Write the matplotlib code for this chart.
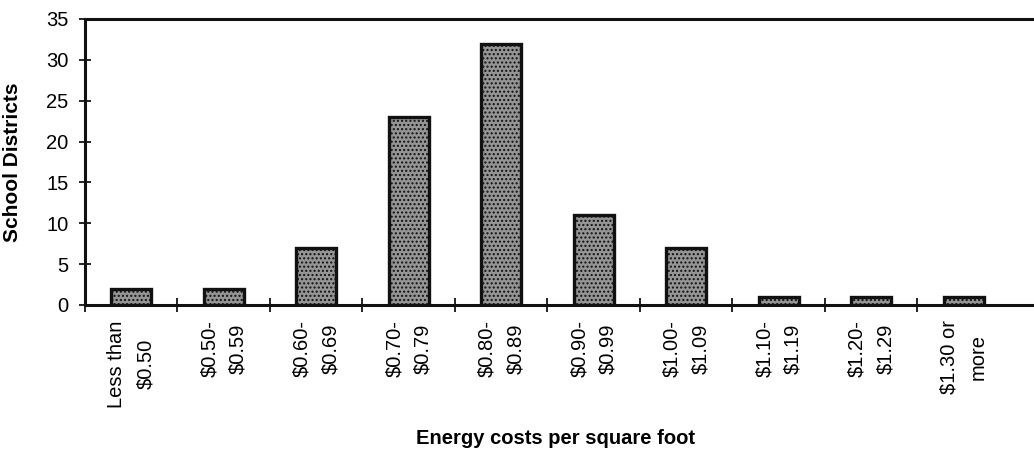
import matplotlib
matplotlib.use("Agg")
import matplotlib.pyplot as plt

categories = ["Less than\n$0.50", "$0.50-\n$0.59", "$0.60-\n$0.69", "$0.70-\n$0.79",
              "$0.80-\n$0.89", "$0.90-\n$0.99", "$1.00-\n$1.09", "$1.10-\n$1.19",
              "$1.20-\n$1.29", "$1.30 or\nmore"]
values = [2, 2, 7, 23, 32, 11, 7, 1, 1, 1]
yticks = [0, 5, 10, 15, 20, 25, 30, 35]

plt.rcParams['font.family'] = ['Liberation Sans', 'DejaVu Sans']
plt.rcParams['hatch.color'] = '#6a6a6a'

W, H = 1034, 449
fig = plt.figure(figsize=(W / 100, H / 100), dpi=100)
ax = fig.add_axes([85 / W, 1 - 305 / H, (1034 - 85) / W, (305 - 19) / H])

x = list(range(len(categories)))
ax.bar(x, values, width=0.43, color='#959595', edgecolor='#111111', linewidth=2.4,
       hatch='....', zorder=3)

ax.set_xlim(-0.5, 9.76)
ax.set_ylim(0, 35)
ax.set_yticks(yticks)
ax.set_yticklabels([str(v) for v in yticks], fontsize=14.5)

# category boundary ticks
ax.set_xticks([i - 0.5 for i in range(len(categories))])
ax.set_xticklabels([])
ax.set_xticks(x, minor=True)
ax.set_xticklabels(categories, minor=True, rotation=90, fontsize=14.5,
                   ha='center', va='top', linespacing=1.65, multialignment='center')
ax.tick_params(axis='x', which='minor', length=0, pad=11)
ax.tick_params(axis='x', which='major', direction='inout', length=10, width=1.2)
ax.tick_params(axis='y', direction='inout', length=8, width=1.2, pad=8)

for s in ['left', 'bottom', 'top']:
    ax.spines[s].set_linewidth(2.2)
    ax.spines[s].set_color('#111111')
ax.spines['right'].set_visible(False)

ax.set_ylabel("School Districts", fontsize=15, fontweight='bold')
ax.yaxis.set_label_coords((22 - 85) / (1034 - 85), 0.5)
fig.text((413 + 697) / 2 / W, 1 - 438 / H, "Energy costs per square foot", fontsize=14.5,
         fontweight='bold', ha='center', va='center')

fig.savefig("out.png", dpi=100)
